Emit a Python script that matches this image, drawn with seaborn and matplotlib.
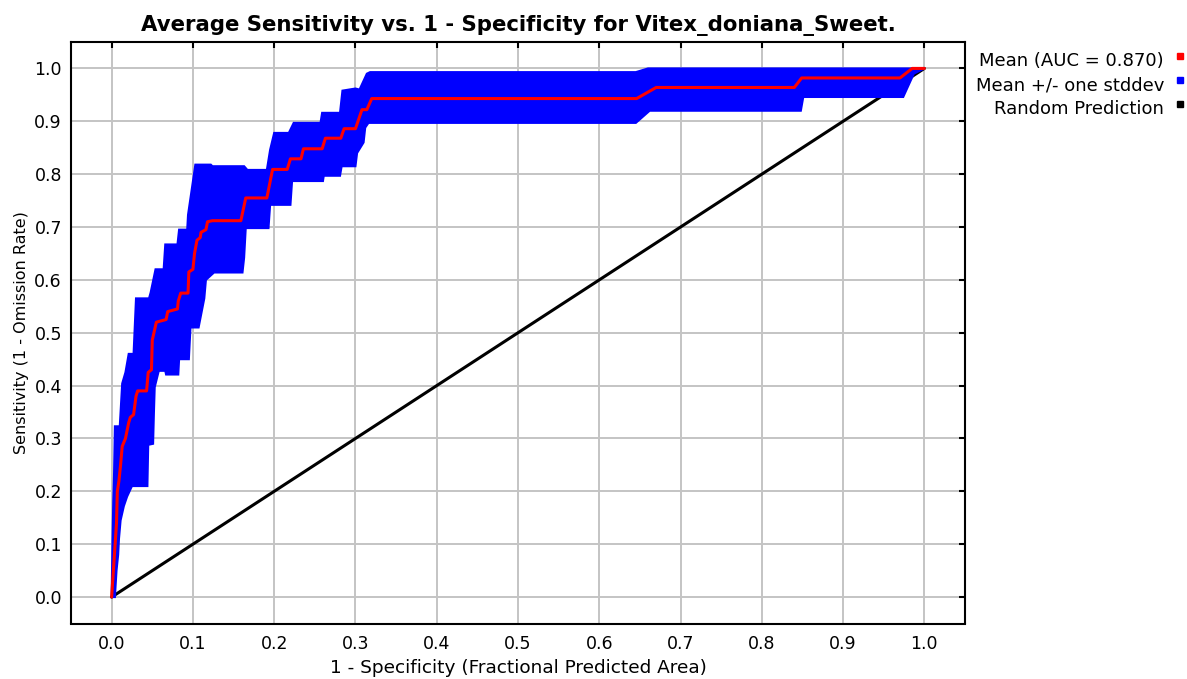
import numpy as np
import seaborn as sns
import matplotlib
matplotlib.use("Agg")
import matplotlib.pyplot as plt
from matplotlib.patches import Rectangle

# mean ROC curve
mean_fpr = [0, 0.003, 0.006, 0.007, 0.009, 0.011, 0.013, 0.017, 0.021, 0.023, 0.027, 0.030, 0.032,
            0.043, 0.045, 0.049, 0.050, 0.055, 0.067, 0.069, 0.081, 0.082, 0.085, 0.094, 0.095,
            0.100, 0.102, 0.105, 0.109, 0.110, 0.116, 0.118, 0.124, 0.159, 0.165, 0.191, 0.198,
            0.216, 0.220, 0.233, 0.236, 0.259, 0.263, 0.282, 0.286, 0.300, 0.308, 0.314, 0.320,
            0.646, 0.670, 0.840, 0.849, 0.970, 0.985, 1.0]
mean_tpr = [0, 0.07, 0.14, 0.20, 0.22, 0.25, 0.285, 0.30, 0.33, 0.34, 0.345, 0.38, 0.39,
            0.39, 0.425, 0.43, 0.486, 0.52, 0.525, 0.54, 0.545, 0.56, 0.575, 0.575, 0.615,
            0.62, 0.65, 0.675, 0.68, 0.69, 0.695, 0.71, 0.712, 0.712, 0.755, 0.755, 0.809,
            0.809, 0.829, 0.829, 0.848, 0.848, 0.868, 0.868, 0.886, 0.886, 0.922, 0.922, 0.943,
            0.943, 0.964, 0.964, 0.982, 0.982, 1.0, 1.0]

# mean + one stddev
upper_fpr = [0, 0.001, 0.002, 0.003, 0.004, 0.010, 0.013, 0.017, 0.021, 0.027, 0.030, 0.046,
             0.048, 0.054, 0.064, 0.066, 0.081, 0.083, 0.093, 0.094, 0.103, 0.122, 0.124, 0.163,
             0.167, 0.191, 0.195, 0.200, 0.218, 0.224, 0.257, 0.259, 0.281, 0.284, 0.300, 0.305,
             0.314, 0.318, 0.645, 0.660, 1.0]
upper_tpr = [0, 0.10, 0.18, 0.235, 0.323, 0.323, 0.404, 0.425, 0.46, 0.46, 0.565, 0.565,
             0.576, 0.62, 0.62, 0.667, 0.667, 0.695, 0.695, 0.723, 0.818, 0.818, 0.815, 0.815,
             0.808, 0.808, 0.846, 0.878, 0.878, 0.897, 0.897, 0.916, 0.916, 0.958, 0.962, 0.96,
             0.99, 0.993, 0.993, 1.0, 1.0]

# mean - one stddev
lower_fpr = [0, 0.004, 0.006, 0.008, 0.009, 0.011, 0.015, 0.019, 0.025, 0.044, 0.045, 0.051,
             0.052, 0.053, 0.058, 0.066, 0.067, 0.082, 0.083, 0.095, 0.097, 0.107, 0.114, 0.116,
             0.126, 0.161, 0.163, 0.165, 0.193, 0.195, 0.220, 0.222, 0.260, 0.261, 0.281, 0.283,
             0.300, 0.302, 0.310, 0.312, 0.316, 0.645, 0.662, 0.848, 0.851, 0.974, 0.987, 1.0]
lower_tpr = [0, 0.0, 0.05, 0.08, 0.11, 0.145, 0.172, 0.19, 0.21, 0.21, 0.288, 0.29,
             0.348, 0.397, 0.428, 0.428, 0.421, 0.421, 0.45, 0.45, 0.51, 0.51, 0.565, 0.60,
             0.614, 0.614, 0.642, 0.698, 0.698, 0.742, 0.742, 0.787, 0.787, 0.797, 0.797, 0.815,
             0.815, 0.84, 0.86, 0.888, 0.897, 0.897, 0.92, 0.92, 0.946, 0.946, 0.99, 1.0]

random_x = [0, 1]
random_y = [0, 1]

tick_vals = [0.0, 0.1, 0.2, 0.3, 0.4, 0.5, 0.6, 0.7, 0.8, 0.9, 1.0]
tick_labels = ["0.0", "0.1", "0.2", "0.3", "0.4", "0.5", "0.6", "0.7", "0.8", "0.9", "1.0"]

legend_labels = ["Mean (AUC = 0.870)", "Mean +/- one stddev", "Random Prediction"]
legend_colors = ["#ff0000", "#0000ff", "#000000"]

sns.set_style("white")
plt.rcParams['font.family'] = ['DejaVu Sans']
plt.rcParams['text.color'] = 'black'
plt.rcParams['axes.labelcolor'] = 'black'
plt.rcParams['xtick.color'] = 'black'
plt.rcParams['ytick.color'] = 'black'

fig = plt.figure(figsize=(11.87, 6.79), dpi=100)
ax = fig.add_axes([71 / 1187, 1 - 623.5 / 679, (965 - 71) / 1187, (623.5 - 42) / 679])

# std band as a polygon: upper edge forward, lower edge back
band_x = np.concatenate([upper_fpr, lower_fpr[::-1]])
band_y = np.concatenate([upper_tpr, lower_tpr[::-1]])

sns.lineplot(x=random_x, y=random_y, color="black", linewidth=2.2, ax=ax, zorder=3)
ax.fill(band_x, band_y, color="#0000ff", linewidth=1.5, edgecolor="#0000ff", zorder=4)
sns.lineplot(x=mean_fpr, y=mean_tpr, sort=False, estimator=None, color="#ff0000",
             linewidth=2.2, ax=ax, zorder=5)

ax.set_xlim(-0.05, 1.05)
ax.set_ylim(-0.05, 1.05)
ax.set_xticks(tick_vals)
ax.set_yticks(tick_vals)
ax.set_xticklabels(tick_labels)
ax.set_yticklabels(tick_labels)
ax.grid(True, color="#c4c4c4", linewidth=1.4)
ax.set_axisbelow(True)
for s in ax.spines.values():
    s.set_color("black")
    s.set_linewidth(1.5)
ax.tick_params(axis="both", direction="in", length=4.5, width=1.5, color="black",
               labelsize=12.5, top=True, right=True)
ax.tick_params(axis="x", pad=8.5)
ax.tick_params(axis="y", pad=6.5)

ax.set_title("Average Sensitivity vs. 1 - Specificity for Vitex_doniana_Sweet.",
             fontsize=15.3, fontweight="bold", pad=8)
ax.set_xlabel("1 - Specificity (Fractional Predicted Area)", fontsize=13.3, labelpad=4)
ax.set_ylabel("Sensitivity (1 - Omission Rate)", fontsize=11.5, labelpad=4)

# legend outside, text right aligned with small squares after it
for i, (lab, col) in enumerate(zip(legend_labels, legend_colors)):
    base = 66 + i * 24
    fig.text(1164 / 1187, 1 - base / 679, lab, ha="right", va="baseline", fontsize=13)
    fig.patches.append(Rectangle((1177 / 1187, 1 - (base - 7) / 679), 6 / 1187, 6 / 679,
                                 transform=fig.transFigure, color=col, figure=fig))

fig.savefig("out.png", dpi=100)
